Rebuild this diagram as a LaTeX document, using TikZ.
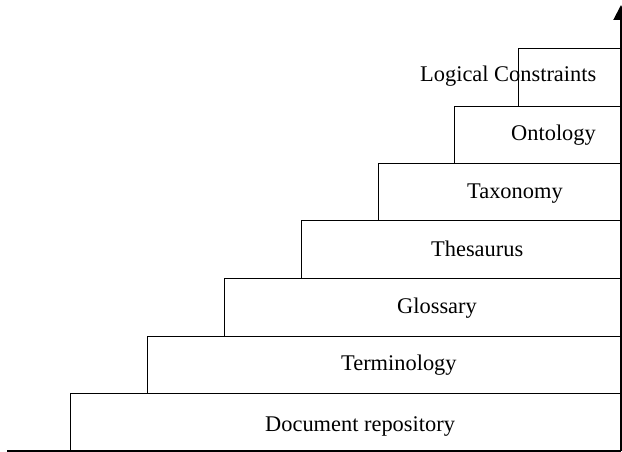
\documentclass[tikz,border=0pt]{standalone}
\usepackage{fontspec}
\setmainfont{Liberation Serif}
\usetikzlibrary{arrows.meta}
\tikzset{
  stepbox/.style={draw=black, line width=1.3pt, inner sep=0pt, anchor=south west, fill=none},
  steplabel/.style={anchor=base west, inner sep=0pt, font=\fontsize{22.4}{26}\selectfont},
  axis/.style={draw=black, line width=1.3pt},
  riser/.style={draw=black, line width=2pt, -{Triangle[length=15pt,width=15pt]}}
}
\begin{document}
\begin{tikzpicture}[x=1pt,y=-1pt]
  \useasboundingbox (0,0) rectangle (622,452);
  % staircase of levels, bottom to top
  \node[stepbox, minimum width=551pt, minimum height=57pt] (s1) at (70,451) {};
  \node[stepbox, minimum width=474pt, minimum height=57pt] (s2) at (147,394) {};
  \node[stepbox, minimum width=397pt, minimum height=58pt] (s3) at (224,337) {};
  \node[stepbox, minimum width=320pt, minimum height=58pt] (s4) at (301,279) {};
  \node[stepbox, minimum width=243pt, minimum height=57pt] (s5) at (378,221) {};
  \node[stepbox, minimum width=167pt, minimum height=57pt] (s6) at (454,164) {};
  \node[stepbox, minimum width=103pt, minimum height=58pt] (s7) at (518,107) {};
  % level names
  \node[steplabel] (t1) at (265,431) {Document repository};
  \node[steplabel] (t2) at (341,370) {Terminology};
  \node[steplabel] (t3) at (397,313) {Glossary};
  \node[steplabel] (t4) at (431,256) {Thesaurus};
  \node[steplabel] (t5) at (467,198) {Taxonomy};
  \node[steplabel] (t6) at (511,141) {Ontology};
  \node[steplabel] (t7) at (420,82) {Logical Constraints};
  % baseline and rising arrow
  \coordinate (origin) at (7,451);
  \coordinate (corner) at (621,451);
  \coordinate (top) at (621,5);
  \draw[axis] (origin) -- (corner);
  \draw[riser] (corner) -- (top);
\end{tikzpicture}
\end{document}
